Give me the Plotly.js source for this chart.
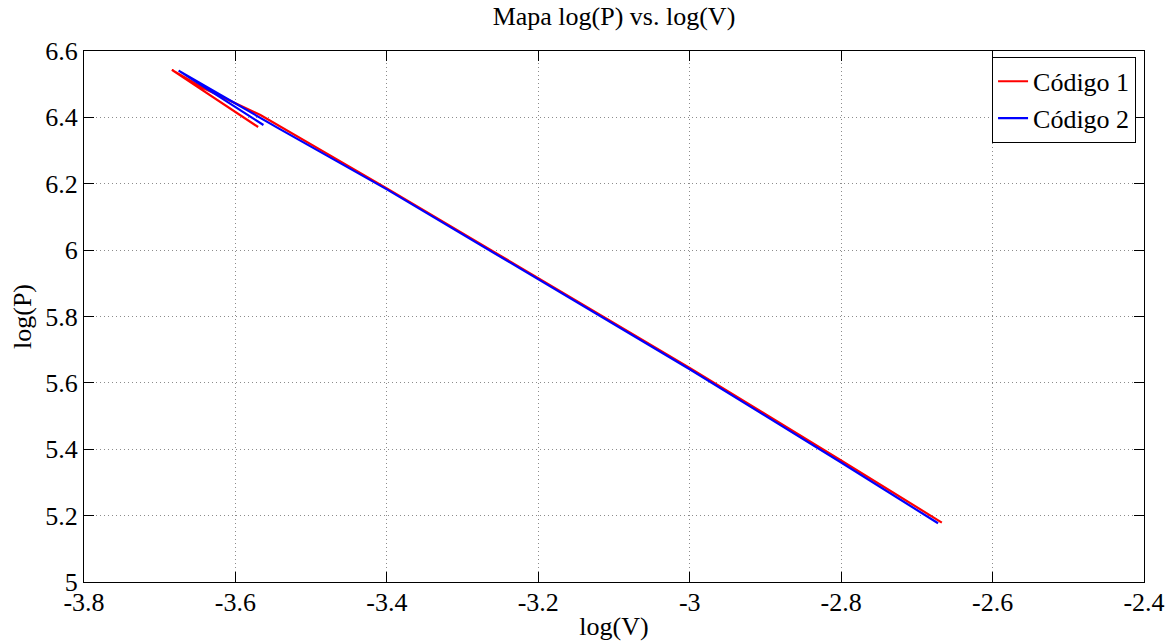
<!DOCTYPE html>
<html>
<head>
<meta charset="utf-8">
<script src="https://cdn.plot.ly/plotly-3.0.1.min.js"></script>
<style>html,body{margin:0;padding:0;background:#fff;}#chart{width:1170px;height:643px;}</style>
</head>
<body>
<div id="chart"></div>
<script>
// Código 1 (red)
const code1LogV = [-3.570, -3.684, -3.642, -3.567, -3.400, -3.200, -3.000, -2.800, -2.667];
const code1LogP = [6.371, 6.543, 6.488, 6.407, 6.186, 5.916, 5.645, 5.366, 5.179];
// Código 2 (blue)
const code2LogV = [-3.563, -3.675, -3.620, -3.543, -3.400, -3.200, -3.000, -2.800, -2.672];
const code2LogP = [6.377, 6.541, 6.468, 6.367, 6.183, 5.912, 5.641, 5.360, 5.177];

const xTickVals = [-3.8, -3.6, -3.4, -3.2, -3.0, -2.8, -2.6, -2.4];
const xTickText = ['-3.8', '-3.6', '-3.4', '-3.2', '-3', '-2.8', '-2.6', '-2.4'];
const yTickVals = [5, 5.2, 5.4, 5.6, 5.8, 6, 6.2, 6.4, 6.6];
const yTickText = ['5', '5.2', '5.4', '5.6', '5.8', '6', '6.2', '6.4', '6.6'];

const serif = 'Liberation Serif, Times New Roman, serif';

const traces = [
  {x: code1LogV, y: code1LogP, type: 'scatter', mode: 'lines', name: 'Código 1',
   line: {color: '#ff0000', width: 2.2}},
  {x: code2LogV, y: code2LogP, type: 'scatter', mode: 'lines', name: 'Código 2',
   line: {color: '#0000ff', width: 2.2}}
];

const axisCommon = {
  showline: true, linecolor: '#000', linewidth: 1, mirror: 'ticks',
  ticks: 'inside', ticklen: 10, tickcolor: '#000', tickwidth: 1,
  showgrid: true, gridcolor: '#8c8c8c', griddash: '1px,3px', gridwidth: 1,
  zeroline: false, tickfont: {family: serif, size: 26, color: '#000'}
};

const layout = {
  width: 1170, height: 643,
  margin: {l: 84, r: 26, t: 51, b: 61},
  paper_bgcolor: '#fff', plot_bgcolor: '#fff',
  title: {text: 'Mapa log(P) vs. log(V)', font: {family: serif, size: 26, color: '#000'},
          xref: 'paper', x: 0.5, xanchor: 'center', y: 0.975, yanchor: 'middle'},
  xaxis: Object.assign({}, axisCommon, {
    range: [-3.8, -2.4], tickvals: xTickVals, ticktext: xTickText, ticklabelstandoff: -3,
    title: {text: 'log(V)', font: {family: serif, size: 26, color: '#000'}, standoff: 0}
  }),
  yaxis: Object.assign({}, axisCommon, {
    range: [5, 6.6], tickvals: yTickVals, ticktext: yTickText,
    title: {text: 'log(P)', font: {family: serif, size: 26, color: '#000'}, standoff: 6}
  }),
  legend: {x: 0.9925, xanchor: 'right', y: 0.989, yanchor: 'top',
           bgcolor: '#fff', bordercolor: '#000', borderwidth: 1,
           font: {family: serif, size: 26, color: '#000'},
           tracegroupgap: 0},
  showlegend: true
};

Plotly.newPlot('chart', traces, layout, {displayModeBar: false, staticPlot: true});
</script>
</body>
</html>
